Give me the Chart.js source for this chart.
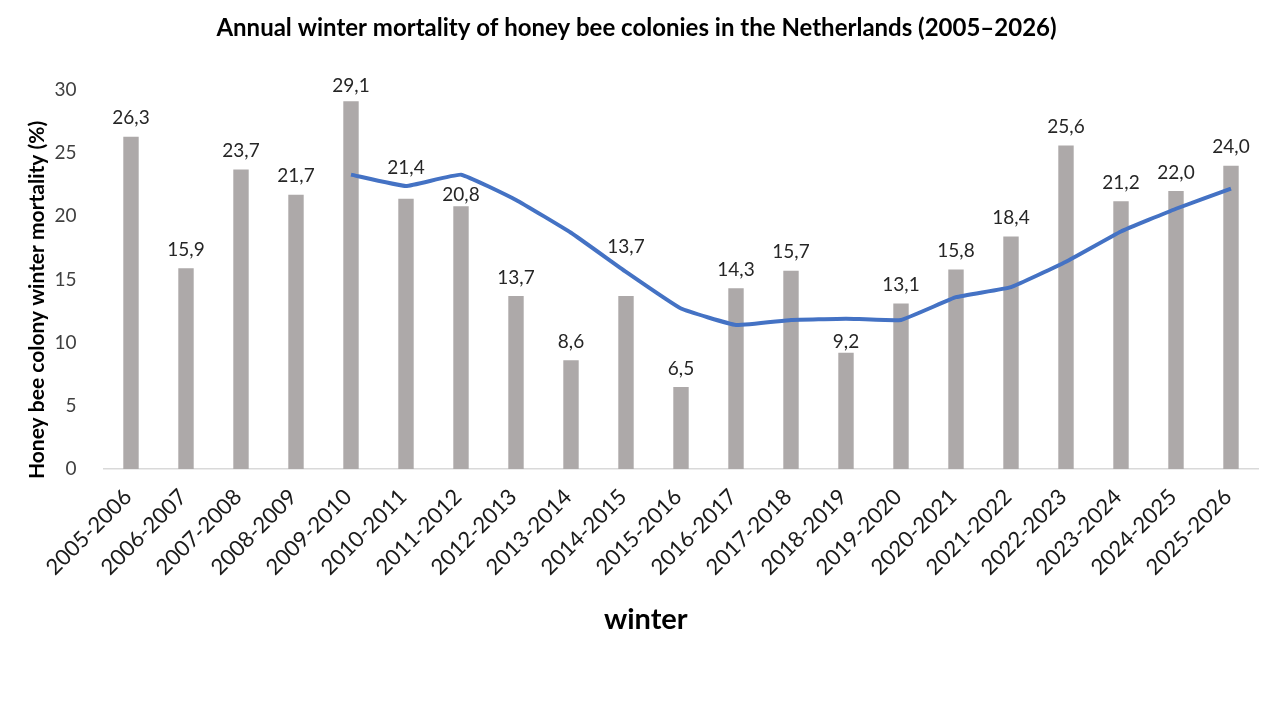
<!DOCTYPE html>
<html>
<head>
<meta charset="utf-8">
<script src="https://cdn.jsdelivr.net/npm/chart.js@4"></script>
<style>
html,body{margin:0;padding:0;background:#fff;}
#wrap{width:1280px;height:720px;position:relative;}
</style>
</head>
<body>
<div id="wrap"><canvas id="c" width="1280" height="720"></canvas></div>
<script>
const winters = ["2005-2006","2006-2007","2007-2008","2008-2009","2009-2010","2010-2011","2011-2012","2012-2013","2013-2014","2014-2015","2015-2016","2016-2017","2017-2018","2018-2019","2019-2020","2020-2021","2021-2022","2022-2023","2023-2024","2024-2025","2025-2026"];
const mortality = [26.3,15.9,23.7,21.7,29.1,21.4,20.8,13.7,8.6,13.7,6.5,14.3,15.7,9.2,13.1,15.8,18.4,25.6,21.2,22.0,24.0];
const trend = [null,null,null,null,23.3,22.4,23.3,21.3,18.7,15.6,12.7,11.4,11.8,11.9,11.8,13.6,14.4,16.4,18.8,20.6,22.2];
const yTicks = [0,5,10,15,20,25,30];

const FONT = "Lato, 'Open Sans', sans-serif";
// manual label nudges (px) to keep labels clear of the trend line, as in the original
const LABEL_NUDGE = { 4: 3, 5: -12, 6: 7, 9: -31, 13: 8 };

const labelPlugin = {
  id: 'barLabels',
  afterDatasetsDraw(chart) {
    const ctx = chart.ctx;
    const meta = chart.getDatasetMeta(1);
    ctx.save();
    ctx.font = "19px " + FONT;
    ctx.fillStyle = "#262626";
    ctx.textAlign = "center";
    ctx.textBaseline = "bottom";
    meta.data.forEach((bar, i) => {
      const v = mortality[i];
      const nudge = LABEL_NUDGE[i] || 0;
      ctx.fillText(v.toFixed(1).replace('.', ','), bar.x, bar.y - 9 + nudge);
    });
    ctx.restore();
  }
};

new Chart(document.getElementById('c'), {
  data: {
    labels: winters,
    datasets: [
      {
        type: 'line',
        data: trend,
        borderColor: '#4472C4',
        borderWidth: 4,
        pointRadius: 0,
        tension: 0.1,
        fill: false,
        order: 0
      },
      {
        type: 'bar',
        data: mortality,
        backgroundColor: '#ADA9A9',
        categoryPercentage: 1,
        barPercentage: 0.28,
        order: 1
      }
    ]
  },
  options: {
    responsive: false,
    animation: false,
    devicePixelRatio: 1,
    layout: { padding: { left: 14.5, right: 21.5, top: 0, bottom: 0 } },
    plugins: {
      legend: { display: false },
      tooltip: { enabled: false },
      title: {
        display: true,
        text: 'Annual winter mortality of honey bee colonies in the Netherlands (2005–2026)',
        color: '#000',
        font: { family: FONT, size: 24, weight: 'bold' },
        padding: { top: 13.6, bottom: 47.6 }
      }
    },
    scales: {
      x: {
        offset: true,
        grid: { display: false },
        border: { display: true, color: '#D9D9D9', width: 1.5 },
        afterFit(scale) { scale.height = 251; },
        ticks: {
          color: '#1a1a1a',
          font: { family: FONT, size: 22 },
          minRotation: 45, maxRotation: 45,
          padding: 7,
          labelOffset: -3,
          autoSkip: false
        },
        title: {
          display: true,
          text: 'winter          ',
          color: '#000',
          font: { family: FONT, size: 29, weight: 'bold' },
          padding: { top: 0, bottom: 82.6 }
        }
      },
      y: {
        min: 0, max: 30,
        afterBuildTicks(scale) { scale.ticks = yTicks.map(v => ({ value: v })); },
        afterFit(scale) { scale.width = 89; },
        grid: { display: false },
        border: { display: false },
        ticks: {
          color: '#404040',
          font: { family: FONT, size: 19 },
          padding: 19
        },
        title: {
          display: true,
          text: 'Honey bee colony winter mortality (%)        ',
          color: '#000',
          font: { family: FONT, size: 21, weight: 'bold' },
          padding: { top: 9.9, bottom: 0 }
        }
      }
    }
  },
  plugins: [labelPlugin]
});
</script>
</body>
</html>
